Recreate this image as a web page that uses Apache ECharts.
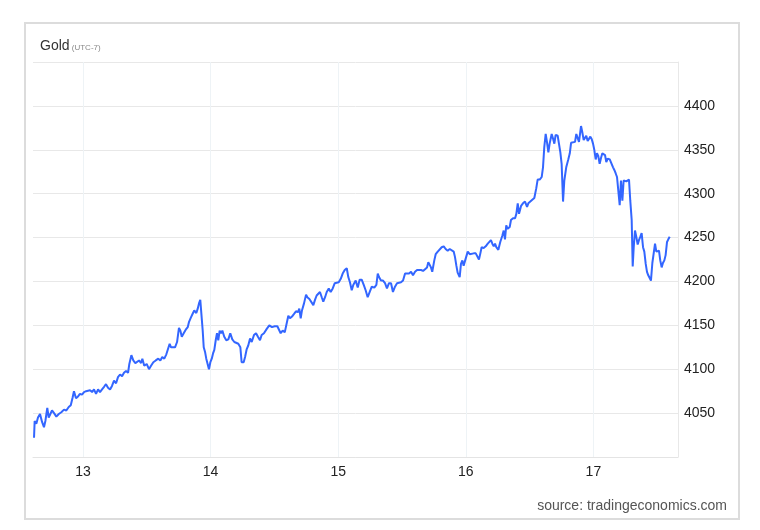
<!DOCTYPE html>
<html>
<head>
<meta charset="utf-8">
<script src="https://cdn.jsdelivr.net/npm/echarts@6/dist/echarts.min.js"></script>
<style>
html,body{margin:0;padding:0;background:#fff;}
#frame{position:absolute;left:24px;top:22px;width:712px;height:494px;border:2px solid #dcdcdc;box-sizing:content-box;}
#chart{position:absolute;left:0;top:0;width:760px;height:530px;}
</style>
</head>
<body>
<div id="frame"></div>
<div id="chart"></div>
<script>
// Time in days of the month (UTC-7)
const times = [
12.616,12.621,12.634,12.647,12.663,12.679,12.694,12.705,12.720,12.731,12.741,12.757,12.773,12.791,12.810,12.830,12.851,12.869,12.888,12.904,
12.919,12.929,12.945,12.961,12.976,12.992,13.008,13.024,13.039,13.055,13.071,13.086,13.102,13.118,13.133,13.149,13.165,13.180,13.196,13.212,
13.227,13.243,13.259,13.274,13.290,13.306,13.321,13.337,13.353,13.363,13.379,13.394,13.410,13.421,13.439,13.455,13.465,13.480,13.499,13.517,
13.533,13.551,13.570,13.590,13.606,13.621,13.637,13.653,13.668,13.679,13.690,13.705,13.721,13.737,13.752,13.763,13.774,13.789,13.805,13.821,
13.831,13.846,13.862,13.872,13.888,13.899,13.909,13.919,13.930,13.938,13.946,13.956,13.966,13.977,13.987,13.998,14.009,14.019,14.029,14.040,
14.050,14.060,14.071,14.082,14.092,14.107,14.123,14.139,14.154,14.170,14.186,14.201,14.217,14.233,14.243,14.259,14.270,14.283,14.295,14.309,
14.322,14.340,14.356,14.371,14.387,14.400,14.418,14.440,14.460,14.481,14.502,14.523,14.538,14.549,14.565,14.581,14.596,14.609,14.622,14.638,
14.654,14.669,14.685,14.695,14.706,14.716,14.732,14.748,14.758,14.774,14.789,14.805,14.818,14.831,14.844,14.857,14.871,14.883,14.897,14.910,
14.926,14.941,14.957,14.973,14.988,15.004,15.020,15.035,15.051,15.067,15.079,15.092,15.106,15.118,15.137,15.153,15.168,15.184,15.200,15.215,
15.231,15.247,15.263,15.283,15.299,15.310,15.320,15.335,15.351,15.367,15.382,15.398,15.414,15.429,15.445,15.461,15.476,15.492,15.508,15.524,
15.539,15.555,15.571,15.586,15.602,15.618,15.633,15.649,15.665,15.680,15.696,15.706,15.717,15.727,15.737,15.753,15.764,15.780,15.795,15.811,
15.827,15.842,15.858,15.874,15.889,15.905,15.915,15.926,15.936,15.952,15.962,15.973,15.983,15.999,16.015,16.031,16.046,16.062,16.078,16.093,
16.103,16.114,16.124,16.140,16.156,16.172,16.187,16.197,16.208,16.219,16.229,16.239,16.255,16.270,16.286,16.297,16.307,16.317,16.328,16.344,
16.354,16.370,16.386,16.396,16.407,16.417,16.433,16.448,16.464,16.480,16.490,16.505,16.521,16.537,16.552,16.563,16.579,16.595,16.605,16.615,
16.626,16.636,16.647,16.657,16.673,16.683,16.694,16.704,16.720,16.730,16.741,16.751,16.762,16.772,16.787,16.803,16.815,16.825,16.840,16.856,
16.866,16.877,16.887,16.903,16.913,16.924,16.934,16.944,16.955,16.966,16.976,16.987,16.997,17.007,17.018,17.028,17.038,17.049,17.060,17.070,
17.080,17.091,17.101,17.112,17.128,17.143,17.154,17.164,17.175,17.185,17.195,17.206,17.216,17.227,17.237,17.248,17.258,17.269,17.279,17.289,
17.300,17.308,17.316,17.326,17.336,17.347,17.357,17.368,17.378,17.389,17.399,17.410,17.420,17.430,17.441,17.451,17.462,17.473,17.483,17.493,
17.504,17.514,17.524,17.535,17.545,17.556,17.566,17.577,17.587,17.598
];
// Gold price (USD/oz)
const prices = [
4022,4041,4038,4045,4049,4040,4034,4041,4056,4045,4045,4053,4050,4046,4049,4051,4054,4053,4057,4059,
4068,4075,4067,4069,4072,4071,4074,4075,4074,4076,4074,4077,4072,4077,4074,4077,4080,4083,4079,4077,
4081,4087,4084,4091,4094,4092,4096,4098,4096,4106,4116,4110,4107,4108,4110,4107,4112,4104,4106,4100,
4104,4108,4110,4112,4110,4114,4112,4117,4118,4129,4125,4127,4125,4131,4147,4144,4137,4141,4145,4148,
4154,4159,4164,4167,4164,4169,4175,4179,4180,4144,4125,4120,4112,4114,4100,4108,4112,4118,4122,4133,
4141,4133,4144,4141,4144,4137,4133,4134,4141,4134,4131,4132,4129,4125,4108,4108,4114,4123,4127,4135,
4131,4139,4141,4137,4133,4139,4141,4146,4150,4148,4149,4149,4150,4141,4144,4142,4144,4161,4158,4160,
4163,4166,4165,4169,4158,4167,4175,4185,4182,4180,4179,4173,4179,4184,4186,4188,4182,4177,4182,4188,
4192,4188,4192,4198,4199,4199,4203,4209,4213,4215,4205,4199,4190,4196,4201,4193,4202,4202,4196,4190,
4182,4188,4194,4193,4196,4209,4205,4201,4201,4198,4192,4198,4198,4188,4194,4198,4199,4199,4201,4209,
4210,4209,4211,4207,4211,4213,4215,4213,4212,4210,4216,4222,4222,4216,4211,4224,4231,4234,4235,4239,
4240,4237,4235,4237,4238,4234,4228,4218,4210,4205,4220,4224,4218,4226,4234,4231,4232,4232,4232,4232,
4225,4232,4239,4238,4240,4243,4243,4247,4243,4240,4243,4239,4236,4245,4252,4258,4248,4264,4260,4262,
4270,4272,4272,4277,4289,4277,4286,4289,4291,4285,4289,4291,4293,4295,4306,4316,4316,4319,4330,4353,
4368,4359,4347,4357,4368,4363,4357,4367,4366,4357,4347,4334,4291,4315,4330,4339,4346,4358,4357,4359,
4368,4370,4359,4377,4370,4361,4363,4366,4360,4362,4365,4362,4357,4350,4339,4346,4343,4334,4341,4346,
4347,4344,4336,4340,4339,4340,4330,4327,4323,4319,4321,4287,4315,4292,4315,4316,4314,4316,4316,4292,
4270,4217,4239,4258,4251,4242,4247,4251,4255,4239,4234,4220,4211,4207,4205,4201,4221,4222,4243,4234,
4235,4235,4224,4216,4221,4224,4230,4245,4248,4251
];
const dayTicks = [13, 14, 15, 16, 17];
const titleMain = 'Gold';
const titleSub = '(UTC-7)';
const sourceText = 'source: tradingeconomics.com';

const seriesData = times.map((t, i) => [t, prices[i]]);
const FONT = '"Liberation Sans", Arial, sans-serif';

const chart = echarts.init(document.getElementById('chart'), null, {renderer: 'canvas'});
chart.setOption({
  backgroundColor: 'transparent',
  animation: false,
  title: [{
    text: '{a|' + titleMain + '}{b| ' + titleSub + '}',
    left: 35, top: 34,
    textStyle: {
      fontWeight: 'normal',
      rich: {
        a: {fontFamily: FONT, fontSize: 14, color: '#333', fontWeight: 'normal'},
        b: {fontFamily: FONT, fontSize: 8, color: '#888', fontWeight: 'normal', padding: [3, 0, 0, 0]}
      }
    }
  }, {
    text: sourceText,
    right: 28, top: 494,
    textStyle: {fontFamily: FONT, fontSize: 14, color: '#555', fontWeight: 'normal'}
  }],
  grid: {left: 33, right: 82, top: 62, bottom: 73},
  xAxis: {
    type: 'value',
    min: 12.608, max: 17.663,
    axisLine: {show: true, lineStyle: {color: '#e4e4e4', width: 1}},
    axisTick: {show: false, customValues: dayTicks},
    axisLabel: {customValues: dayTicks, formatter: v => String(v), color: '#222', fontFamily: FONT, fontSize: 14, margin: 8},
    splitLine: {show: true, lineStyle: {color: '#eef3f6', width: 1}}
  },
  yAxis: {
    type: 'value',
    position: 'right',
    min: 4000, max: 4450, interval: 50,
    axisLine: {show: true, lineStyle: {color: '#e8e8e8', width: 1}},
    axisTick: {show: false},
    axisLabel: {showMinLabel: false, showMaxLabel: false, formatter: v => String(v), color: '#222', fontFamily: FONT, fontSize: 14, margin: 6},
    splitLine: {show: true, lineStyle: {color: '#e8e8e8', width: 1}}
  },
  series: [{
    type: 'line',
    data: seriesData,
    showSymbol: false,
    lineStyle: {color: '#3366ff', width: 2},
    itemStyle: {color: '#3366ff'}
  }]
});
</script>
</body>
</html>
